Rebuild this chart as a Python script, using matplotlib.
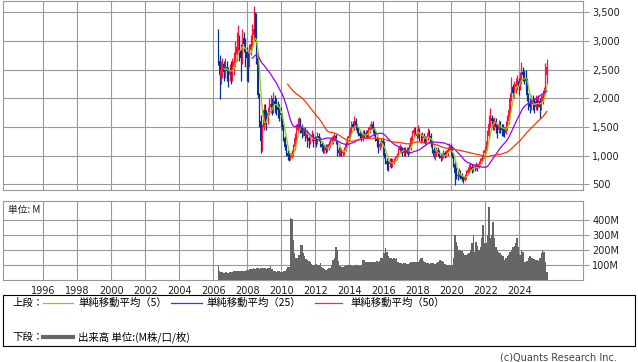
import matplotlib
matplotlib.use("Agg")
import matplotlib.pyplot as plt
from matplotlib.patches import Rectangle
from matplotlib.lines import Line2D
import numpy as np
import pandas as pd

# ---------------- data (monthly, Apr 2006 - Aug 2025) ----------------
start_month = "2006-04"

opens = [
    3100, 2650, 2400, 2500, 2600, 2450, 2550, 2480, 2400,                     # 2006
    2500, 2450, 2550, 2650, 2750, 2900, 3000, 2850, 2700, 3050, 2950, 2800,   # 2007
    2700, 2650, 2850, 2950, 3100, 3200, 3150, 2700, 2050, 1600, 1250, 1500,   # 2008
    1800, 1700, 1650, 1750, 1850, 1900, 1850, 1950, 1900, 1850, 1800, 1750,   # 2009
    1700, 1500, 1300, 1150, 1050, 1000, 950, 980, 1050, 1150, 1300, 1450,     # 2010
    1550, 1600, 1500, 1400, 1450, 1350, 1400, 1300, 1250, 1300, 1350, 1250,   # 2011
    1300, 1250, 1350, 1300, 1200, 1150, 1100, 1150, 1100, 1150, 1200, 1250,   # 2012
    1280, 1300, 1350, 1250, 1100, 1050, 1100, 1050, 1050, 1100, 1200, 1300,   # 2013
    1350, 1450, 1550, 1500, 1600, 1500, 1450, 1400, 1350, 1300, 1400, 1350,   # 2014
    1400, 1350, 1450, 1500, 1550, 1450, 1400, 1300, 1250, 1150, 1200, 1250,   # 2015
    1200, 1000, 900, 860, 850, 900, 850, 890, 900, 950, 1000, 1100,           # 2016
    1150, 1100, 1050, 1100, 1050, 1100, 1050, 1150, 1300, 1400, 1450, 1400,   # 2017
    1350, 1450, 1310, 1300, 1350, 1300, 1250, 1300, 1400, 1350, 1200, 1100,   # 2018
    1000, 1050, 1100, 1050, 1000, 950, 1000, 1050, 1000, 1050, 1100, 1150,    # 2019
    1100, 1000, 850, 700, 660, 650, 700, 650, 600, 570, 620, 700,             # 2020
    750, 780, 800, 750, 800, 780, 820, 800, 850, 900, 950, 1050,              # 2021
    1100, 1150, 1350, 1550, 1650, 1600, 1550, 1600, 1500, 1450, 1550, 1500,   # 2022
    1460, 1450, 1400, 1500, 1600, 1800, 2000, 2200, 2100, 2200, 2250, 2300,   # 2023
    2200, 2300, 2450, 2400, 2350, 2300, 2050, 1900, 1850, 1950, 1900, 1850,   # 2024
    1950, 1900, 1950, 1850, 1950, 2050, 2150, 2400,                           # 2025
]
highs = [
    3200, 2750, 2650, 2700, 2650, 2700, 2650, 2550, 2600,
    2650, 2700, 2800, 3000, 3150, 3280, 3100, 2950, 3200, 3150, 3050, 2900,
    2800, 2950, 3100, 3300, 3610, 3500, 3480, 2800, 2100, 1700, 1550, 1900,
    1900, 1800, 1850, 2000, 2050, 2000, 2115, 2050, 2000, 1950, 1900, 1850,
    1750, 1550, 1350, 1200, 1100, 1050, 1050, 1100, 1200, 1400, 1550, 1650,
    1680, 1650, 1550, 1500, 1500, 1450, 1450, 1350, 1350, 1450, 1400, 1350,
    1350, 1420, 1400, 1320, 1250, 1200, 1200, 1200, 1200, 1250, 1300, 1350,
    1366, 1400, 1380, 1280, 1150, 1150, 1120, 1100, 1150, 1250, 1350, 1400,
    1500, 1600, 1600, 1686, 1650, 1550, 1500, 1450, 1400, 1450, 1450, 1450,
    1450, 1500, 1560, 1600, 1600, 1500, 1450, 1350, 1300, 1250, 1300, 1300,
    1250, 1050, 950, 900, 950, 950, 950, 950, 1000, 1050, 1150, 1200,
    1163, 1150, 1150, 1150, 1150, 1150, 1200, 1350, 1450, 1500, 1500, 1450,
    1540, 1480, 1400, 1420, 1400, 1350, 1350, 1483, 1450, 1400, 1250, 1150,
    1100, 1150, 1150, 1100, 1050, 1050, 1100, 1080, 1100, 1150, 1220, 1200,
    1150, 1050, 900, 800, 750, 780, 750, 700, 650, 680, 750, 800,
    850, 870, 850, 860, 850, 880, 860, 900, 950, 1000, 1100, 1150,
    1250, 1450, 1700, 1830, 1700, 1650, 1680, 1650, 1550, 1620, 1600, 1550,
    1550, 1500, 1600, 1700, 1900, 2100, 2373, 2250, 2300, 2350, 2400, 2350,
    2450, 2632, 2550, 2500, 2488, 2350, 2100, 2000, 2050, 2050, 2000, 2050,
    2000, 2050, 2000, 2050, 2150, 2200, 2620, 2690,
]
lows = [
    2580, 1990, 2250, 2350, 2300, 2350, 2300, 2200, 2300,
    2250, 2300, 2400, 2550, 2650, 2800, 2650, 2300, 2600, 2800, 2550, 2300,
    2280, 2550, 2750, 2900, 3000, 3000, 2600, 2000, 1500, 1050, 1080, 1450,
    1550, 1450, 1550, 1700, 1750, 1700, 1750, 1750, 1700, 1650, 1600, 1600,
    1450, 1250, 1100, 1000, 930, 900, 920, 950, 1000, 1100, 1250, 1400,
    1450, 1400, 1300, 1350, 1250, 1300, 1150, 1130, 1200, 1250, 1150, 1200,
    1150, 1200, 1250, 1150, 1080, 1050, 1050, 1050, 1060, 1100, 1150, 1200,
    1200, 1250, 1200, 990, 1000, 1000, 1000, 1000, 1018, 1080, 1150, 1250,
    1300, 1400, 1450, 1450, 1450, 1400, 1350, 1300, 1250, 1250, 1300, 1300,
    1300, 1300, 1400, 1450, 1400, 1350, 1250, 1150, 1047, 1100, 1150, 1100,
    950, 850, 750, 727, 800, 780, 800, 850, 880, 920, 980, 1050,
    1050, 1000, 1000, 1000, 1020, 1000, 1030, 1100, 1250, 1350, 1350, 1300,
    1300, 1250, 1220, 1250, 1220, 1200, 1200, 1280, 1300, 1150, 1050, 950,
    930, 1000, 1000, 950, 900, 920, 950, 950, 980, 1000, 1080, 1050,
    950, 800, 495, 600, 580, 620, 600, 550, 530, 550, 600, 680,
    700, 730, 700, 720, 730, 760, 740, 780, 820, 870, 920, 1000,
    1050, 1100, 1300, 1500, 1500, 1450, 1450, 1400, 1300, 1400, 1400, 1350,
    1350, 1330, 1380, 1450, 1550, 1750, 1950, 2000, 2000, 2100, 2150, 2050,
    2150, 2250, 2300, 2250, 2150, 1950, 1800, 1750, 1800, 1800, 1750, 1800,
    1800, 1850, 1652, 1800, 1900, 2000, 2100, 2250,
]
closes = [
    2650, 2400, 2500, 2600, 2450, 2550, 2480, 2400, 2500,
    2450, 2550, 2650, 2750, 2900, 3000, 2850, 2700, 3050, 2950, 2800, 2700,
    2650, 2850, 2950, 3100, 3200, 3150, 2700, 2050, 1600, 1250, 1500, 1800,
    1700, 1650, 1750, 1850, 1900, 1850, 1950, 1900, 1850, 1800, 1750, 1700,
    1500, 1300, 1150, 1050, 1000, 950, 980, 1050, 1150, 1300, 1450, 1550,
    1600, 1500, 1400, 1450, 1350, 1400, 1300, 1250, 1300, 1350, 1250, 1300,
    1250, 1350, 1300, 1200, 1150, 1100, 1150, 1100, 1150, 1200, 1250, 1300,
    1300, 1350, 1250, 1100, 1050, 1100, 1050, 1050, 1100, 1200, 1300, 1350,
    1450, 1550, 1500, 1600, 1500, 1450, 1400, 1350, 1300, 1400, 1350, 1400,
    1350, 1450, 1500, 1550, 1450, 1400, 1300, 1250, 1150, 1200, 1250, 1200,
    1000, 900, 850, 850, 900, 850, 900, 900, 950, 1000, 1100, 1150,
    1100, 1050, 1100, 1050, 1100, 1050, 1150, 1300, 1400, 1450, 1400, 1350,
    1450, 1300, 1300, 1350, 1300, 1250, 1300, 1400, 1350, 1200, 1100, 1000,
    1050, 1100, 1050, 1000, 950, 1000, 1050, 1000, 1050, 1100, 1150, 1100,
    1000, 850, 700, 650, 650, 700, 650, 600, 570, 620, 700, 750,
    780, 800, 750, 800, 780, 820, 800, 850, 900, 950, 1050, 1100,
    1150, 1350, 1550, 1650, 1600, 1550, 1600, 1500, 1450, 1550, 1500, 1450,
    1450, 1400, 1500, 1600, 1800, 2000, 2200, 2100, 2200, 2250, 2300, 2200,
    2300, 2450, 2400, 2350, 2300, 2050, 1900, 1850, 1950, 1900, 1850, 1950,
    1900, 1950, 1850, 1950, 2050, 2100, 2450, 2550,
]
volumes_m = [
    102, 60, 55, 52, 50, 55, 52, 50, 55,
    55, 58, 60, 62, 60, 65, 62, 60, 65, 62, 65, 68,
    70, 72, 75, 78, 80, 78, 82, 80, 78, 85, 80, 82,
    80, 78, 82, 85, 98, 75, 65, 60, 58, 62, 60, 58,
    55, 60, 65, 75, 91, 90, 418, 405, 269, 180, 147, 150,
    170, 235, 235, 180, 160, 140, 135, 130, 120, 110, 100, 105,
    110, 100, 105, 113, 90, 80, 75, 70, 75, 80, 85, 100,
    135, 150, 224, 200, 130, 95, 90, 88, 92, 95, 100, 102,
    105, 100, 98, 102, 100, 105, 100, 98, 102, 135, 135, 120,
    120, 125, 124, 120, 125, 122, 124, 126, 125, 130, 146, 150,
    180, 213, 190, 160, 146, 146, 140, 146, 140, 146, 120, 113,
    113, 110, 113, 112, 108, 110, 115, 120, 124, 124, 120, 124,
    125, 135, 146, 146, 130, 120, 115, 113, 110, 115, 113, 112,
    110, 115, 120, 135, 135, 130, 120, 110, 105, 102, 100, 102,
    105, 150, 302, 258, 230, 202, 202, 195, 180, 169, 169, 175,
    180, 200, 250, 302, 191, 258, 230, 200, 220, 280, 369, 246,
    250, 300, 491, 280, 300, 391, 280, 224, 200, 190, 180, 169,
    160, 135, 150, 160, 169, 190, 200, 224, 230, 250, 280, 220,
    169, 202, 190, 124, 124, 130, 146, 160, 150, 146, 140, 135,
    135, 130, 150, 180, 202, 190, 124, 58,
]

price_ticks = [500, 1000, 1500, 2000, 2500, 3000, 3500]
price_labels = ["500", "1,000", "1,500", "2,000", "2,500", "3,000", "3,500"]
vol_ticks = [100, 200, 300, 400]
vol_labels = ["100M", "200M", "300M", "400M"]
year_ticks = list(range(1996, 2025, 2))
year_labels = [str(y) for y in year_ticks]
ma_periods = [5, 25, 50]
ma_colors = ["#99cc00", "#9900ff", "#ff3300"]
legend_top = ["単純移動平均（5）", "単純移動平均（25）", "単純移動平均（50）"]

# ---------------- derived ----------------
periods = pd.period_range(start_month, periods=len(closes), freq="M")
x = np.array([p.year + (p.month - 0.5) / 12.0 for p in periods])
o = np.array(opens, float); h = np.array(highs, float)
l = np.array(lows, float); c = np.array(closes, float)
v = np.array(volumes_m, float)

RED = "#ff1040"
BLUE = "#003399"
GRID = "#999999"
JP = ["Noto Sans CJK JP", "DejaVu Sans"]

W, H = 638, 362
fig = plt.figure(figsize=(W / 100, H / 100), dpi=100)
fig.patch.set_facecolor("white")

def fx(px):
    return px / W

def fy(py):
    return 1 - py / H

L0, R0 = 3.3, 582.7
ax = fig.add_axes([fx(L0), fy(190.3), fx(R0 - L0), (190.3 - 1.0) / H])
axv = fig.add_axes([fx(L0), fy(280.3), fx(R0 - L0), (280.3 - 201.0) / H])

xmin, xmax = 1993.65, 2027.73

for a in (ax, axv):
    a.set_xlim(xmin, xmax)
    a.set_xticks(year_ticks)
    a.grid(True, color=GRID, linewidth=0.8)
    a.set_axisbelow(True)
    for s in a.spines.values():
        s.set_color(GRID)
        s.set_linewidth(0.8)
    a.yaxis.tick_right()
    a.tick_params(axis="y", length=4, color=GRID, width=0.8, labelsize=7, pad=3,
                  labelcolor="#222222")

# ---- price panel ----
ax.set_ylim(395, 3697)
ax.set_yticks(price_ticks)
ax.set_yticklabels(price_labels)
ax.tick_params(axis="x", length=0, labelbottom=False)

up = c >= o
cols = np.where(up, RED, BLUE)
ax.vlines(x, l, h, colors=cols, linewidth=0.9, zorder=3)
body_h = np.maximum(np.abs(c - o), 8)
ax.bar(x, body_h, bottom=np.minimum(o, c), width=0.9 / 12, color=cols,
       linewidth=0, zorder=3)

cs = pd.Series(c)
for per, col in zip(ma_periods, ma_colors):
    ma = cs.rolling(per).mean()
    ax.plot(x, ma, color=col, linewidth=0.9, zorder=4)

# ---- volume panel ----
axv.set_ylim(0, 528)
axv.set_yticks(vol_ticks)
axv.set_yticklabels(vol_labels)
axv.set_xticklabels(year_labels)
axv.tick_params(axis="x", length=0, labelsize=7, pad=4, labelcolor="#222222")
axv.bar(x, v, width=1 / 12, color="#666666", linewidth=0, zorder=3)

fig.text(fx(8), fy(210), "単位: M", fontsize=7, family=JP, va="center", ha="left",
         color="#222222")

# ---- legend box ----
fig.patches.append(Rectangle((fx(3.3), fy(346)), fx(635.3 - 3.3), (346 - 295) / H,
                             transform=fig.transFigure, fill=False,
                             edgecolor="black", linewidth=0.8))
LFS = 7.5
ytop = fy(303)
fig.text(fx(12), ytop, "上段：", fontsize=LFS, family=JP, va="center", ha="left")
line_x = [(43, 73), (171, 202), (315, 342)]
text_x = [78, 206, 350]
for (x0, x1), tx, col, lab in zip(line_x, text_x, ma_colors, legend_top):
    fig.lines.append(Line2D([fx(x0), fx(x1)], [ytop, ytop], transform=fig.transFigure,
                            color=col, linewidth=0.9))
    fig.text(fx(tx), ytop, lab, fontsize=LFS, family=JP, va="center", ha="left")

ybot = fy(337)
fig.text(fx(12), ybot, "下段：", fontsize=LFS, family=JP, va="center", ha="left")
fig.lines.append(Line2D([fx(43), fx(73)], [ybot, ybot], transform=fig.transFigure,
                        color="#666666", linewidth=3))
fig.text(fx(78), ybot, "出来高 単位:(M株/口/枚)", fontsize=LFS, family=JP,
         va="center", ha="left")

fig.text(fx(617), fy(357), "(c)Quants Research Inc.", fontsize=7, ha="right",
         va="center", color="#444444")

fig.savefig("out.png", dpi=100)
